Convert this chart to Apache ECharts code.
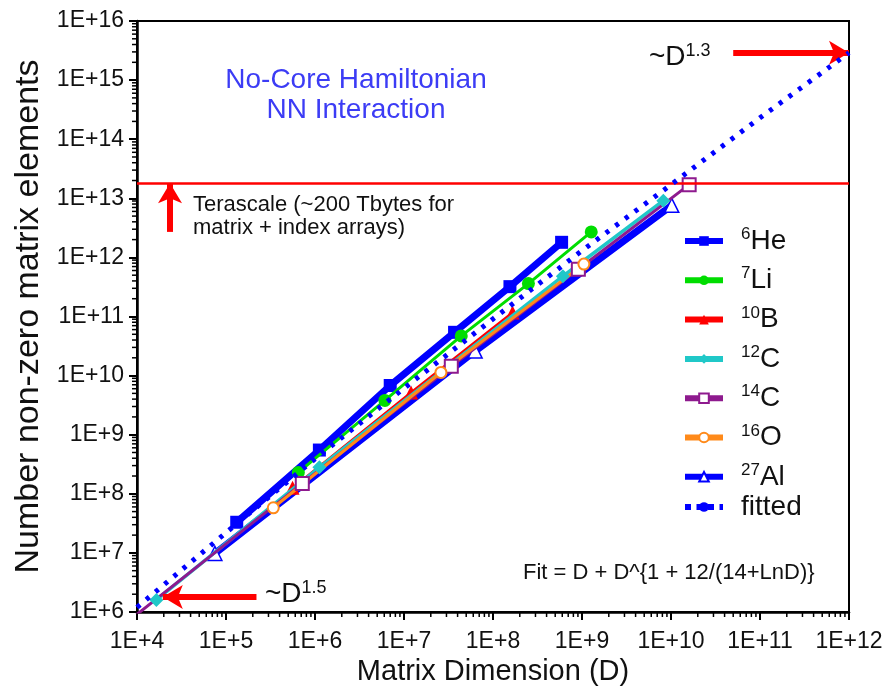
<!DOCTYPE html>
<html><head><meta charset="utf-8">
<script src="https://cdn.jsdelivr.net/npm/echarts@6/dist/echarts.min.js"></script>
<style>html,body{margin:0;padding:0;background:#fff}#c{width:889px;height:690px}</style>
</head><body><div id="c"></div>
<script>
// ---- data ----
const xTickValues = [1e4,1e5,1e6,1e7,1e8,1e9,1e10,1e11,1e12];
const xTickLabels = ['1E+4','1E+5','1E+6','1E+7','1E+8','1E+9','1E+10','1E+11','1E+12'];
const yTickValues = [1e6,1e7,1e8,1e9,1e10,1e11,1e12,1e13,1e14,1e15,1e16];
const yTickLabels = ['1E+6','1E+7','1E+8','1E+9','1E+10','1E+11','1E+12','1E+13','1E+14','1E+15','1E+16'];

const he6  = [[1.32e5,3.3e7],[1.12e6,5.5e8],[7.0e6,6.8e9],[3.7e7,5.4e10],[1.55e8,3.2e11],[5.9e8,1.8e12]];
const li7  = [[6.5e5,2.3e8],[6.1e6,3.8e9],[4.4e7,4.7e10],[2.5e8,3.6e11],[1.27e9,2.7e12]];
const b10  = [[5.6e5,1.26e8],[1.2e7,5.2e9],[1.66e8,1.17e11]];
const c12  = [[1.65e4,1.6e6],[1.12e6,2.8e8],[6.1e8,4.8e11],[8.2e9,9.1e12]];
const c14  = [[8e3,7e5],[7.2e5,1.5e8],[3.4e7,1.44e10],[9.1e8,6.3e11],[1.6e10,1.7e13]];
const o16  = [[3.4e5,5.8e7],[2.6e7,1.13e10],[1.05e9,7.7e11]];
const al27 = [[7.5e4,9.8e6],[6.3e7,2.6e10],[1.02e10,7.6e12]];
const fitted = [[1e4,1.2e6],[1e5,2.2e7],[1e6,3.9e8],[1e7,6.1e9],[1e8,9.1e10],[1e9,1.3e12],[1e10,1.7e13],[1e11,2.3e14],[1e12,2.9e15]];
const terascale = 1.8e13;

// minor tick positions (2..9 within each decade)
const xMinor = [], yMinor = [];
for (let e = 4; e < 12; e++) for (let m = 2; m <= 9; m++) xMinor.push(m * Math.pow(10, e));
for (let e = 6; e < 16; e++) for (let m = 2; m <= 9; m++) yMinor.push(m * Math.pow(10, e));

const FF = '"Liberation Sans", Arial, Helvetica, sans-serif';
const INK = '#111';
const GRID = { left: 137, right: 40, top: 21, bottom: 78 };
const W = 889, H = 690;

function lineSeries(name, data, color, width, symbol, size, fill, bw, z) {
  return {
    name, type: 'line', data, z, clip: true,
    symbol, symbolSize: size, showSymbol: true,
    lineStyle: { color, width },
    itemStyle: { color: fill, borderColor: fill === '#fff' ? color : fill, borderWidth: bw },
    emphasis: { disabled: true }, animation: false
  };
}

const chart = echarts.init(document.getElementById('c'), null, { renderer: 'canvas', width: W, height: H });

const arrowStyle = { color: '#ff0000', width: 6, type: 'solid' };
const richSup = { m: { fontFamily: FF, fontSize: 28, lineHeight: 30, fill: INK }, s: { fontFamily: FF, fontSize: 18, lineHeight: 14, verticalAlign: 'top', fill: INK } };
const textGraphics = [
  { type: 'text', x: 356, y: 80, silent: true, style: { text: 'No-Core Hamiltonian', font: '28px ' + FF, fill: '#3c3cf5', textAlign: 'center', textVerticalAlign: 'middle', verticalAlign: 'middle' } },
  { type: 'text', x: 356, y: 110, silent: true, style: { text: 'NN Interaction', font: '28px ' + FF, fill: '#3c3cf5', textAlign: 'center', textVerticalAlign: 'middle', verticalAlign: 'middle' } },
  { type: 'text', x: 193, y: 205, silent: true, style: { text: 'Terascale (~200 Tbytes for', font: '22px ' + FF, fill: INK, textAlign: 'left', textVerticalAlign: 'middle', verticalAlign: 'middle' } },
  { type: 'text', x: 193, y: 228, silent: true, style: { text: 'matrix + index arrays)', font: '22px ' + FF, fill: INK, textAlign: 'left', textVerticalAlign: 'middle', verticalAlign: 'middle' } },
  { type: 'text', x: 523, y: 573, silent: true, style: { text: 'Fit = D + D^{1 + 12/(14+LnD)}', font: '22px ' + FF, fill: INK, textAlign: 'left', textVerticalAlign: 'middle', verticalAlign: 'middle' } },
  { type: 'text', x: 649, y: 57, silent: true, style: { text: '{m|~D}{s|1.3}', fill: INK, textAlign: 'left', textVerticalAlign: 'middle', verticalAlign: 'middle', rich: richSup } },
  { type: 'text', x: 265, y: 594, silent: true, style: { text: '{m|~D}{s|1.5}', fill: INK, textAlign: 'left', textVerticalAlign: 'middle', verticalAlign: 'middle', rich: richSup } }
];

function buildOption(graphics) {
  return {
    animation: false,
    backgroundColor: '#fff',
    grid: { left: GRID.left, right: GRID.right, top: GRID.top, bottom: GRID.bottom, show: true, borderColor: '#000', borderWidth: 2, containLabel: false, outerBoundsMode: 'none' },
    xAxis: {
      type: 'log', logBase: 10, min: 1e4, max: 1e12,
      name: 'Matrix Dimension (D)', nameLocation: 'middle', nameGap: 43,
      nameTextStyle: { fontFamily: FF, fontSize: 29, color: INK },
      axisLine: { show: true, lineStyle: { color: '#000', width: 2.5 } },
      axisTick: { show: true, inside: false, length: 8, lineStyle: { color: '#000', width: 2 }, customValues: xTickValues },
      axisLabel: { show: true, margin: 18, fontFamily: FF, fontSize: 23, color: INK, customValues: xTickValues,
        formatter: v => xTickLabels[xTickValues.findIndex(t => Math.abs(Math.log10(t) - Math.log10(v)) < 1e-6)] },
      splitLine: { show: false }, minorTick: { show: false }, minorSplitLine: { show: false }
    },
    yAxis: {
      type: 'log', logBase: 10, min: 1e6, max: 1e16,
      name: 'Number non-zero matrix elements', nameLocation: 'middle', nameGap: 90, nameRotate: 90,
      nameTextStyle: { fontFamily: FF, fontSize: 34, color: INK },
      axisLine: { show: true, lineStyle: { color: '#000', width: 2.5 } },
      axisTick: { show: true, inside: false, length: 8, lineStyle: { color: '#000', width: 2 }, customValues: yTickValues },
      axisLabel: { show: true, margin: 13, fontFamily: FF, fontSize: 23, color: INK, customValues: yTickValues,
        formatter: v => yTickLabels[yTickValues.findIndex(t => Math.abs(Math.log10(t) - Math.log10(v)) < 1e-6)] },
      splitLine: { show: false }, minorTick: { show: false }, minorSplitLine: { show: false }
    },
    legend: [{
      orient: 'vertical', left: 682, top: 226, padding: 0, itemWidth: 38, itemHeight: 12, itemGap: 10.3,
      selectedMode: false, data: ['6He','7Li','10B','12C','14C','16O','27Al'],
      lineStyle: { width: 6 },
      formatter: name => { const m = name.match(/^(\d+)(\D+)$/); return m ? '{s|' + m[1] + '}{m|' + m[2] + '}' : name; },
      textStyle: { color: INK, rich: {
        s: { fontFamily: FF, fontSize: 17, lineHeight: 15, verticalAlign: 'top', color: INK, padding: [0, 0, 0, 13] },
        m: { fontFamily: FF, fontSize: 28, lineHeight: 30, color: INK }
      } }
    }, {
      orient: 'vertical', left: 682, top: 493, padding: 0, itemWidth: 38, itemHeight: 12,
      selectedMode: false, data: ['fitted'],
      lineStyle: { width: 6, type: [6, 5.5] },
      formatter: name => '{m|' + name + '}',
      textStyle: { color: INK, rich: { m: { fontFamily: FF, fontSize: 28, lineHeight: 30, color: INK, padding: [0, 0, 0, 13] } } }
    }],
    series: [
      lineSeries('6He', he6, '#0000ff', 7, 'rect', 13, '#0000ff', 0, 2),
      lineSeries('27Al', al27, '#0000ff', 7, 'triangle', 14, '#fff', 1.5, 2),
      lineSeries('7Li', li7, '#00dd00', 3, 'circle', 13, '#00dd00', 0, 3),
      lineSeries('10B', b10, '#ff0000', 2.5, 'triangle', 14, '#ff0000', 0, 3),
      lineSeries('12C', c12, '#20c8c8', 3.5, 'diamond', 14, '#20c8c8', 0, 4),
      lineSeries('14C', c14, '#8e1a8e', 3, 'rect', 13, '#fff', 2, 4),
      lineSeries('16O', o16, '#ff8a1a', 3, 'circle', 11, '#fff', 2, 4),
      {
        name: 'fitted', type: 'line', data: fitted, z: 5, symbol: 'none', showSymbol: false, clip: true,
        lineStyle: { color: '#0000ff', width: 5, type: [4, 8] }, itemStyle: { color: '#0000ff' },
        emphasis: { disabled: true }, animation: false,
        markLine: {
          silent: true, animation: false, label: { show: false }, emphasis: { disabled: true },
          symbol: ['none', 'none'],
          data: [
            [{ coord: [1e4, terascale], symbol: 'none', lineStyle: { color: '#ff0000', width: 2.5, type: 'solid' } },
             { coord: [1e12, terascale], symbol: 'none' }],
            [{ coord: [5e10, 2.9e15], symbol: 'none', lineStyle: arrowStyle },
             { coord: [1e12, 2.9e15], symbol: 'arrow', symbolSize: [18, 20] }],
            [{ coord: [2.35e4, 2.7e12], symbol: 'none', lineStyle: arrowStyle },
             { coord: [2.35e4, terascale], symbol: 'arrow', symbolSize: [18, 20] }],
            [{ coord: [2.2e5, 1.8e6], symbol: 'none', lineStyle: arrowStyle },
             { coord: [1.95e4, 1.8e6], symbol: 'arrow', symbolSize: [18, 20] }]
          ]
        }
      }
    ],
    graphic: { elements: graphics }
  };
}

chart.setOption(buildOption(textGraphics));

// ---- minor ticks (2..9 per decade), placed with the chart's own log scales ----
const plotW = W - GRID.left - GRID.right, plotH = H - GRID.top - GRID.bottom;
function xPix(v) {
  let p = null;
  try { p = chart.convertToPixel({ xAxisIndex: 0 }, v); } catch (e) { p = null; }
  if (typeof p !== 'number' || !isFinite(p) || p < GRID.left - 1 || p > W - GRID.right + 1) {
    p = GRID.left + (Math.log10(v) - 4) / 8 * plotW;
  }
  return p;
}
function yPix(v) {
  let p = null;
  try { p = chart.convertToPixel({ yAxisIndex: 0 }, v); } catch (e) { p = null; }
  if (typeof p !== 'number' || !isFinite(p) || p < GRID.top - 1 || p > H - GRID.bottom + 1) {
    p = GRID.top + (16 - Math.log10(v)) / 10 * plotH;
  }
  return p;
}
const axisY = H - GRID.bottom, axisX = GRID.left;
const tickGraphics = [];
xMinor.forEach((v, i) => {
  const px = xPix(v);
  tickGraphics.push({ type: 'line', id: 'xm' + i, silent: true, z: 20,
    shape: { x1: px, y1: axisY, x2: px, y2: axisY + 5 }, style: { stroke: '#000', lineWidth: 1.5 } });
});
yMinor.forEach((v, i) => {
  const py = yPix(v);
  tickGraphics.push({ type: 'line', id: 'ym' + i, silent: true, z: 20,
    shape: { x1: axisX - 5, y1: py, x2: axisX, y2: py }, style: { stroke: '#000', lineWidth: 1.5 } });
});
chart.setOption(buildOption(textGraphics.concat(tickGraphics)), true);
</script>
</body></html>
